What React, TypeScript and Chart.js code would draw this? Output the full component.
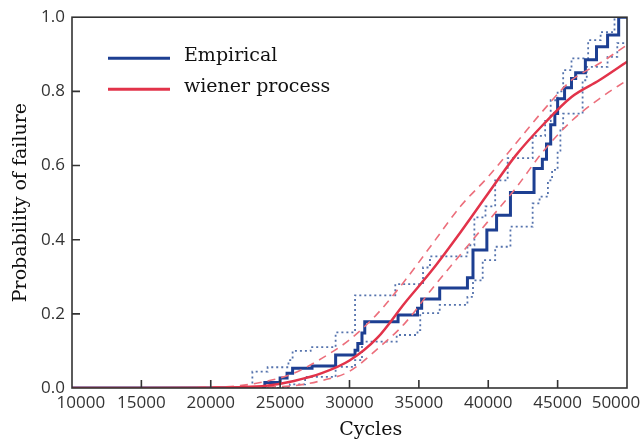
import React, { useEffect, useRef } from 'react';
import { Chart, registerables } from 'chart.js';

Chart.register(...registerables);

// ---- axis ticks ----
const X_TICKS = [10000, 15000, 20000, 25000, 30000, 35000, 40000, 45000, 50000];
const Y_TICKS = [0, 0.2, 0.4, 0.6, 0.8, 1.0];

// ---- Empirical CDF (step) ----
const EMP_CYCLES = [10000, 23900, 25000, 25500, 25900, 27300, 29000, 30400, 30600, 30900, 31100, 33500, 34900, 35200, 36500, 38500, 38900, 39900, 40600, 41600, 43300, 43900, 44200, 44500, 44800, 45000, 45500, 46000, 46300, 47000, 47800, 48600, 49400, 50000];
const EMP_PROB = [0, 0.015, 0.027, 0.04, 0.053, 0.059, 0.089, 0.102, 0.12, 0.148, 0.179, 0.197, 0.215, 0.24, 0.27, 0.297, 0.372, 0.426, 0.466, 0.527, 0.592, 0.617, 0.658, 0.71, 0.74, 0.78, 0.81, 0.835, 0.85, 0.885, 0.92, 0.952, 1.0, 1.0];

// ---- Empirical confidence bounds (dotted steps) ----
const EMP_UP_CYCLES = [10000, 23000, 24100, 25600, 25900, 27200, 29000, 30400, 33300, 35300, 35800, 38500, 39000, 39800, 40500, 41400, 43200, 44100, 44500, 45000, 45400, 46000, 47200, 48100, 49100, 50000];
const EMP_UP_PROB = [0, 0.044, 0.056, 0.075, 0.1, 0.11, 0.15, 0.25, 0.28, 0.325, 0.355, 0.385, 0.46, 0.49, 0.56, 0.62, 0.68, 0.72, 0.776, 0.8, 0.857, 0.889, 0.938, 0.96, 1.0, 1.0];

const EMP_LO_CYCLES = [10000, 25700, 26800, 29000, 30400, 30900, 33400, 34900, 35100, 36500, 38500, 38900, 39600, 40500, 41600, 43200, 43700, 44300, 44600, 45000, 45200, 45400, 46800, 47100, 48600, 49300, 50000];
const EMP_LO_PROB = [0, 0.01, 0.03, 0.057, 0.075, 0.125, 0.143, 0.156, 0.202, 0.224, 0.246, 0.29, 0.345, 0.381, 0.435, 0.498, 0.516, 0.56, 0.588, 0.64, 0.695, 0.74, 0.83, 0.866, 0.893, 0.93, 0.93];

// ---- Wiener process model ----
const WIENER_CYCLES = [10000, 15000, 20000, 22000, 24000, 26000, 28000, 30000, 32000, 34000, 36000, 38000, 40000, 42000, 44000, 46000, 48000, 50000];
const WIENER_MEAN = [0, 0, 0.001, 0.002, 0.006, 0.019, 0.04, 0.074, 0.135, 0.23, 0.32, 0.42, 0.525, 0.628, 0.712, 0.785, 0.83, 0.88];
const WIENER_UPPER = [0, 0, 0.002, 0.006, 0.018, 0.04, 0.08, 0.13, 0.2, 0.29, 0.39, 0.49, 0.57, 0.66, 0.75, 0.83, 0.875, 0.925];
const WIENER_LOWER = [0, 0, 0, 0.001, 0.003, 0.006, 0.02, 0.045, 0.105, 0.175, 0.27, 0.36, 0.45, 0.54, 0.64, 0.72, 0.78, 0.83];

const LABEL_EMP = 'Empirical';
const LABEL_WIENER = 'wiener process';
const X_TITLE = 'Cycles';
const Y_TITLE = 'Probability of failure';

const BLUE = '#1d3f92';
const BLUE_DOT = '#5573ad';
const RED = '#e2334a';
const RED_DASH = '#ec6f7c';
const AXIS = '#333333';

const pts = (xs: number[], ys: number[]) => xs.map((x, i) => ({ x, y: ys[i] }));

const SERIF = '"DejaVu Serif", serif';
const SANS = '"Open Sans", sans-serif';

const framePlugin = {
  id: 'frameAndLegend',
  afterDatasetsDraw(chart: any) {
    const { ctx, chartArea: a, scales } = chart;
    ctx.save();
    ctx.strokeStyle = AXIS;
    ctx.lineWidth = 1.6;
    ctx.strokeRect(a.left, a.top, a.right - a.left, a.bottom - a.top);
    ctx.beginPath();
    for (const v of X_TICKS) {
      const px = scales.x.getPixelForValue(v);
      if (px > a.left + 2 && px < a.right - 2) {
        ctx.moveTo(px, a.bottom);
        ctx.lineTo(px, a.bottom - 8);
      }
    }
    for (const v of Y_TICKS) {
      const py = scales.y.getPixelForValue(v);
      if (py > a.top + 2 && py < a.bottom - 2) {
        ctx.moveTo(a.left, py);
        ctx.lineTo(a.left + 8, py);
      }
    }
    ctx.stroke();

    // legend (inside plot, top-left)
    const items = chart.data.datasets.filter((d: any) => d.inLegend);
    ctx.font = `19px ${SERIF}`;
    ctx.textBaseline = 'middle';
    ctx.textAlign = 'left';
    items.forEach((d: any, i: number) => {
      const y = a.top + 41 + i * 31;
      ctx.beginPath();
      ctx.strokeStyle = d.borderColor;
      ctx.lineWidth = 3;
      ctx.setLineDash([]);
      ctx.moveTo(a.left + 36, y);
      ctx.lineTo(a.left + 98, y);
      ctx.stroke();
      ctx.fillStyle = '#111111';
      ctx.fillText(d.label, a.left + 112, y - 2);
    });
    ctx.restore();
  },
};

export default function App() {
  const ref = useRef<HTMLCanvasElement>(null);

  useEffect(() => {
    document.body.style.margin = '0';
    const chart = new Chart(ref.current as HTMLCanvasElement, {
      type: 'line',
      data: {
        datasets: [
          {
            label: LABEL_EMP,
            inLegend: true,
            data: pts(EMP_CYCLES, EMP_PROB),
            stepped: 'before',
            borderColor: BLUE,
            borderWidth: 3,
            pointRadius: 0,
            fill: false,
            order: 2,
          } as any,
          {
            label: 'Empirical upper',
            data: pts(EMP_UP_CYCLES, EMP_UP_PROB),
            stepped: 'before',
            borderColor: BLUE_DOT,
            borderWidth: 1.8,
            borderDash: [2, 3],
            pointRadius: 0,
            fill: false,
            order: 3,
          },
          {
            label: 'Empirical lower',
            data: pts(EMP_LO_CYCLES, EMP_LO_PROB),
            stepped: 'before',
            borderColor: BLUE_DOT,
            borderWidth: 1.8,
            borderDash: [2, 3],
            pointRadius: 0,
            fill: false,
            order: 3,
          },
          {
            label: LABEL_WIENER,
            inLegend: true,
            data: pts(WIENER_CYCLES, WIENER_MEAN),
            cubicInterpolationMode: 'monotone',
            borderColor: RED,
            borderWidth: 2.5,
            pointRadius: 0,
            fill: false,
            order: 1,
          } as any,
          {
            label: 'Wiener upper',
            data: pts(WIENER_CYCLES, WIENER_UPPER),
            cubicInterpolationMode: 'monotone',
            borderColor: RED_DASH,
            borderWidth: 1.6,
            borderDash: [8, 6],
            pointRadius: 0,
            fill: false,
            order: 1,
          },
          {
            label: 'Wiener lower',
            data: pts(WIENER_CYCLES, WIENER_LOWER),
            cubicInterpolationMode: 'monotone',
            borderColor: RED_DASH,
            borderWidth: 1.6,
            borderDash: [8, 6],
            pointRadius: 0,
            fill: false,
            order: 1,
          },
        ],
      },
      options: {
        responsive: false,
        animation: false,
        devicePixelRatio: 1,
        layout: { padding: { top: 17, right: 16, left: 0, bottom: 0 } },
        plugins: { legend: { display: false }, tooltip: { enabled: false } },
        scales: {
          x: {
            type: 'linear',
            min: 10000,
            max: 50000,
            afterBuildTicks: (s: any) => {
              s.ticks = X_TICKS.map((v) => ({ value: v }));
            },
            afterFit: (s: any) => {
              s.height = 56;
              s.paddingLeft = 0;
              s.paddingRight = 0;
            },
            grid: { display: false, drawTicks: false },
            border: { display: false },
            ticks: {
              autoSkip: false,
              maxRotation: 0,
              minRotation: 0,
              padding: 5,
              color: AXIS,
              font: { family: SANS, size: 17 },
              callback: (v: any) => {
                const n = Number(v);
                if (n === X_TICKS[0]) return '    ' + String(n);
                if (n === X_TICKS[X_TICKS.length - 1]) return String(n) + '     ';
                return String(n);
              },
            },
            title: {
              display: true,
              text: '       ' + X_TITLE,
              color: '#111111',
              font: { family: SERIF, size: 19 },
              padding: { top: 0, bottom: 3 },
            },
          },
          y: {
            type: 'linear',
            min: 0,
            max: 1,
            afterBuildTicks: (s: any) => {
              s.ticks = Y_TICKS.map((v) => ({ value: v }));
            },
            afterFit: (s: any) => {
              s.width = 72;
            },
            grid: { display: false, drawTicks: false },
            border: { display: false },
            ticks: {
              padding: 7,
              color: AXIS,
              font: { family: SANS, size: 17 },
              callback: (v: any) => Number(v).toFixed(1),
            },
            title: {
              display: true,
              text: Y_TITLE,
              color: '#111111',
              font: { family: SERIF, size: 19 },
              padding: { top: 10, bottom: 0 },
            },
          },
        },
      },
      plugins: [framePlugin],
    });
    return () => chart.destroy();
  }, []);

  return (
    <div style={{ width: 643, height: 444 }}>
      <canvas ref={ref} width={643} height={444} style={{ display: 'block' }} />
    </div>
  );
}
